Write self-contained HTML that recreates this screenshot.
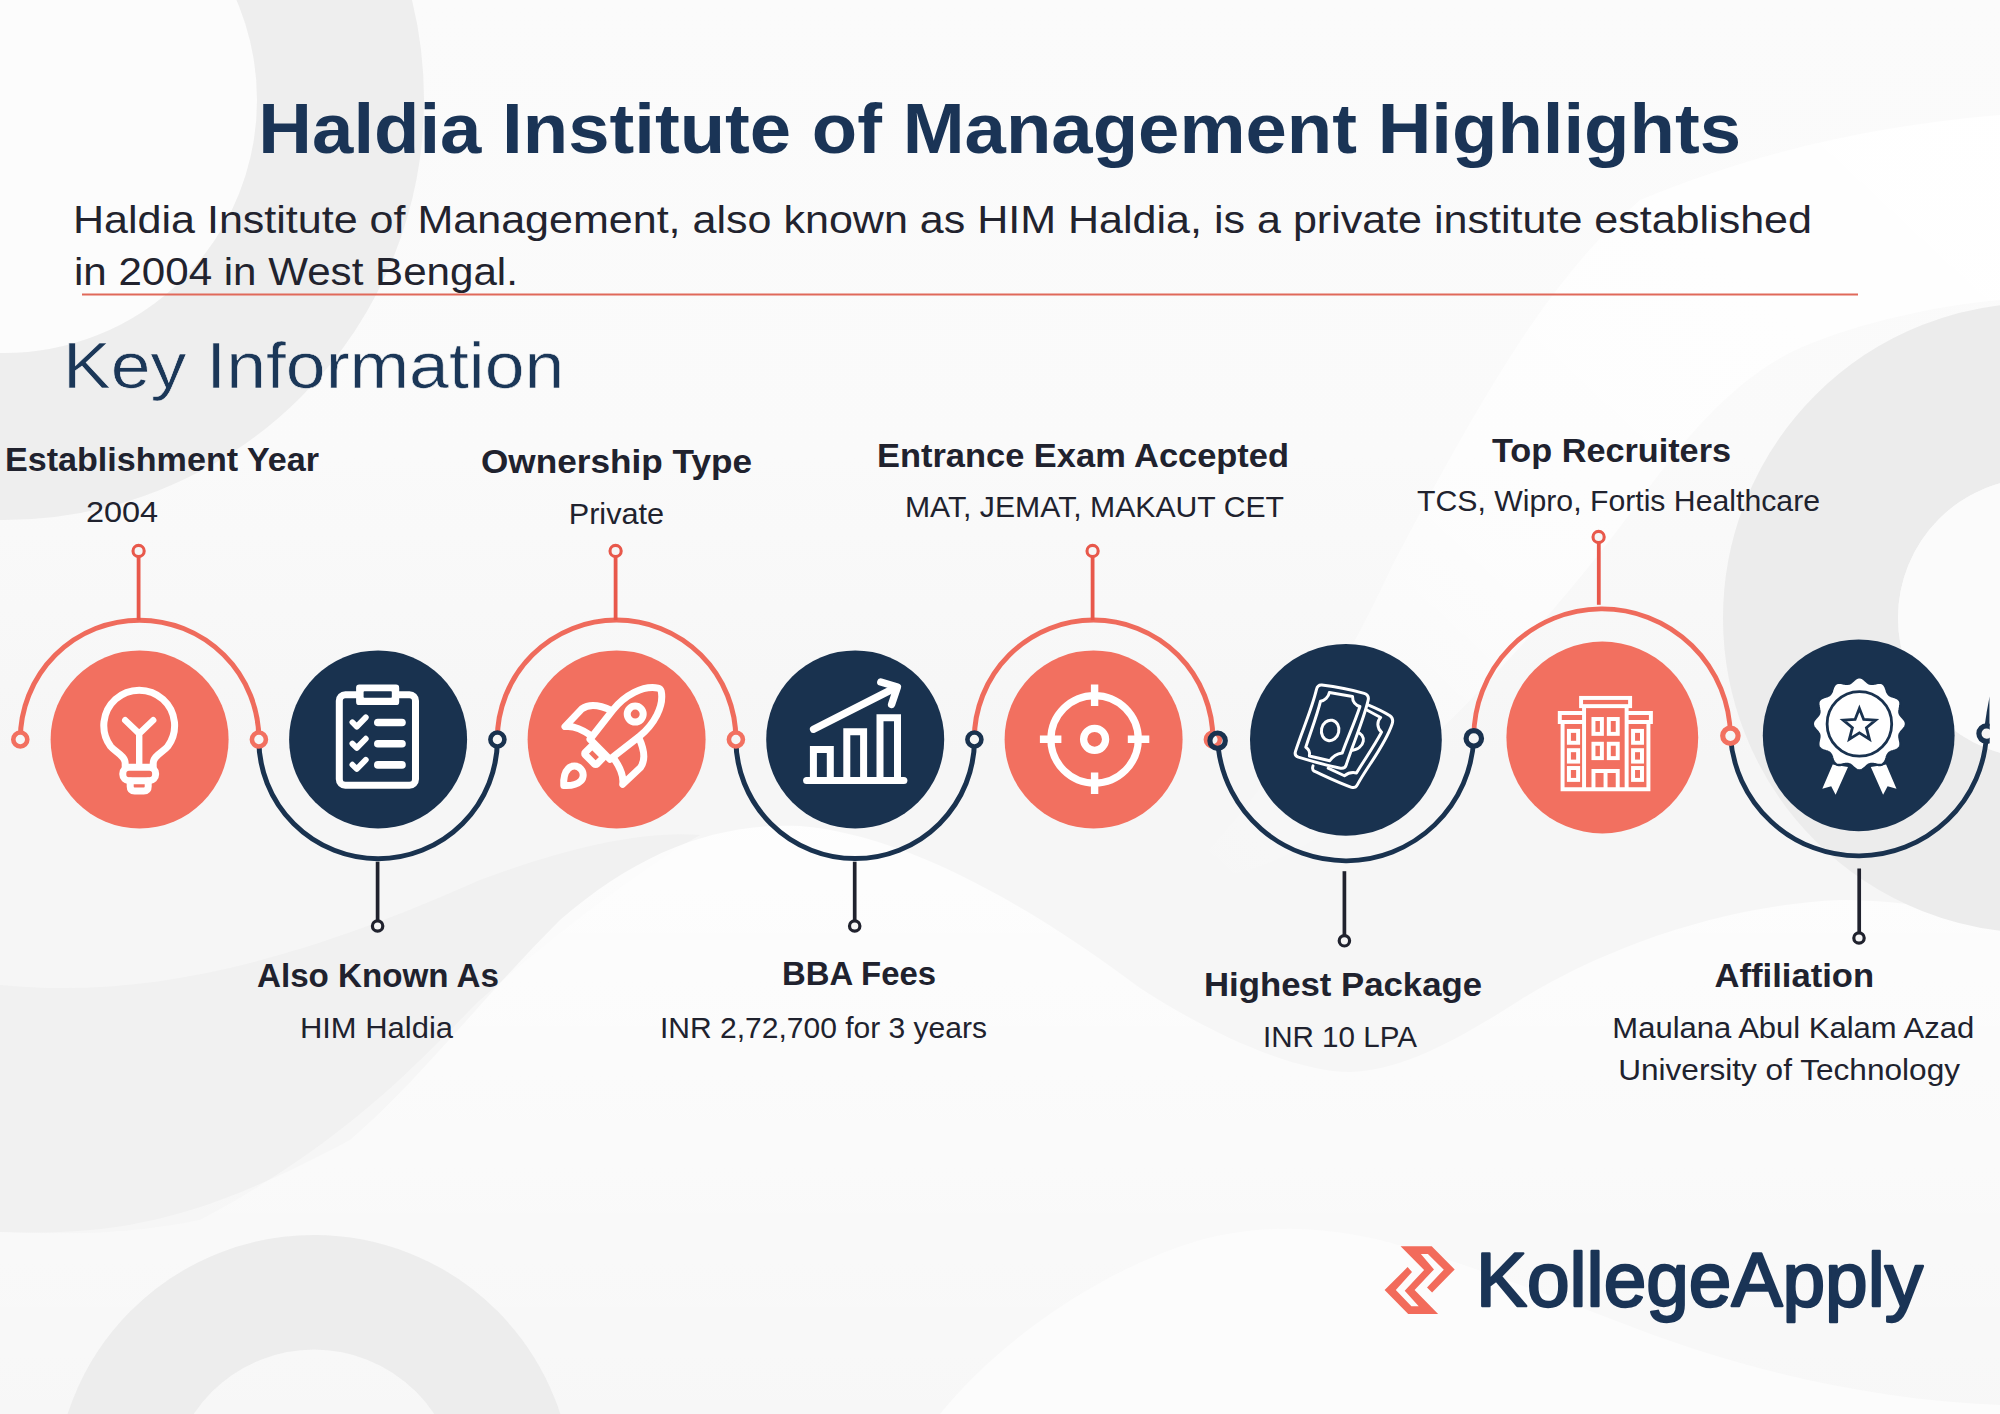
<!DOCTYPE html>
<html lang="en"><head><meta charset="utf-8">
<title>Haldia Institute of Management Highlights</title>
<style>
html,body{margin:0;padding:0;background:#f7f7f7;}
body{width:2000px;height:1414px;overflow:hidden;position:relative;font-family:"Liberation Sans",sans-serif;}
svg{position:absolute;left:0;top:0;display:block}
text{font-family:"Liberation Sans",sans-serif;}
.b{font-weight:bold}
</style></head><body>
<svg width="2000" height="1414" viewBox="0 0 2000 1414">
<defs>
<linearGradient id="wv" x1="0" y1="0" x2="0" y2="1"><stop offset="0" stop-color="#fff" stop-opacity="0.85"/><stop offset="1" stop-color="#fff" stop-opacity="0.15"/></linearGradient>
<linearGradient id="wv2" x1="1" y1="0" x2="0" y2="1"><stop offset="0" stop-color="#fff" stop-opacity="0.95"/><stop offset="0.6" stop-color="#fff" stop-opacity="0.6"/><stop offset="1" stop-color="#fff" stop-opacity="0"/></linearGradient>
<linearGradient id="gz" x1="0" y1="0" x2="1" y2="0"><stop offset="0" stop-color="#e9e9e9" stop-opacity="0.8"/><stop offset="1" stop-color="#efefef" stop-opacity="0"/></linearGradient>
<filter id="sf" x="-5%" y="-5%" width="110%" height="110%"><feGaussianBlur stdDeviation="1.2"/></filter>
<linearGradient id="tz" x1="0" y1="0" x2="0" y2="1"><stop offset="0" stop-color="#fbfbfb"/><stop offset="0.6" stop-color="#fafafa"/><stop offset="1" stop-color="#f6f6f6"/></linearGradient>
</defs>
<rect x="0" y="0" width="2000" height="1414" fill="#f6f6f6"/>
<rect x="0" y="0" width="2000" height="760" fill="url(#tz)"/>
<path d="M0,985 C150,1000 300,960 480,880 C560,850 640,830 700,835 C640,870 560,930 480,1000 C420,1060 350,1140 200,1220 C120,1236 60,1234 0,1232 Z" fill="#f1f1f1"/>
<path d="M2000,115 C1880,125 1760,150 1640,200 C1560,270 1500,360 1392,566 C1330,700 1260,800 1180,880 C1240,880 1290,860 1340,820 C1450,730 1560,610 1640,500 C1690,430 1740,375 1800,348 C1860,322 1940,305 2000,300 Z" fill="url(#wv2)"/>
<path d="M0,1232 C120,1236 200,1220 350,1140 C420,1080 480,1000 560,920 C640,850 720,822 800,826 C900,834 1020,898 1140,988 C1220,1040 1300,1072 1350,1072 C1400,1070 1450,1045 1520,1000 C1600,950 1720,905 1840,900 C1900,900 1960,910 2000,925 L2000,1414 L0,1414 Z" fill="url(#wv)"/>
<path d="M940,1414 C1000,1340 1100,1270 1200,1240 C1260,1224 1320,1226 1380,1240 C1460,1260 1560,1300 1640,1330 C1760,1375 1880,1400 2000,1405 L2000,1414 Z" fill="#fcfcfc"/>
<circle cx="4" cy="100" r="253" fill="#fcfcfc"/>
<circle cx="4" cy="100" r="336.5" fill="none" stroke="#eeeeee" stroke-width="167"/>
<circle cx="2038" cy="618" r="227.5" fill="none" stroke="#ececec" stroke-width="175"/>
<circle cx="2038" cy="618" r="140" fill="#fbfbfb"/>
<circle cx="314" cy="1494" r="201.75" fill="none" stroke="#ebebeb" stroke-opacity="0.9" stroke-width="114.5"/>
<text class="b" x="258.37" y="153.0" font-size="70" fill="#1a3456" textLength="1482.65" lengthAdjust="spacingAndGlyphs">Haldia Institute of Management Highlights</text>
<text x="72.98" y="233.0" font-size="38" fill="#22232e" textLength="1739.03" lengthAdjust="spacingAndGlyphs">Haldia Institute of Management, also known as HIM Haldia, is a private institute established</text>
<text x="73.95" y="285.0" font-size="38" fill="#22232e" textLength="443.91" lengthAdjust="spacingAndGlyphs">in 2004 in West Bengal.</text>
<rect x="82" y="293.5" width="1776" height="2" fill="#e0695a"/>
<text x="63.04" y="387.6" font-size="64" fill="#1b3758" textLength="501.28" lengthAdjust="spacingAndGlyphs" stroke="#f4f4f4" stroke-width="0.6">Key Information</text>
<text class="b" x="4.97" y="470.5" font-size="34" fill="#20222e" textLength="314.04" lengthAdjust="spacingAndGlyphs">Establishment Year</text>
<text x="85.90" y="522.0" font-size="30" fill="#20222e" textLength="72.16" lengthAdjust="spacingAndGlyphs">2004</text>
<text class="b" x="480.98" y="473.0" font-size="34" fill="#20222e" textLength="271.04" lengthAdjust="spacingAndGlyphs">Ownership Type</text>
<text x="568.69" y="523.8" font-size="30" fill="#20222e" textLength="95.41" lengthAdjust="spacingAndGlyphs">Private</text>
<text class="b" x="876.97" y="466.8" font-size="34" fill="#20222e" textLength="412.05" lengthAdjust="spacingAndGlyphs">Entrance Exam Accepted</text>
<text x="904.97" y="517.0" font-size="30" fill="#20222e" textLength="379.04" lengthAdjust="spacingAndGlyphs">MAT, JEMAT, MAKAUT CET</text>
<text class="b" x="1492.00" y="461.8" font-size="34" fill="#20222e" textLength="239.01" lengthAdjust="spacingAndGlyphs">Top Recruiters</text>
<text x="1417.00" y="510.8" font-size="30" fill="#20222e" textLength="403.01" lengthAdjust="spacingAndGlyphs">TCS, Wipro, Fortis Healthcare</text>
<text class="b" x="256.99" y="986.8" font-size="34" fill="#20222e" textLength="242.03" lengthAdjust="spacingAndGlyphs">Also Known As</text>
<text x="299.93" y="1037.5" font-size="30" fill="#20222e" textLength="153.06" lengthAdjust="spacingAndGlyphs">HIM Haldia</text>
<text class="b" x="781.93" y="985.0" font-size="34" fill="#20222e" textLength="154.12" lengthAdjust="spacingAndGlyphs">BBA Fees</text>
<text x="659.96" y="1037.5" font-size="30" fill="#20222e" textLength="327.05" lengthAdjust="spacingAndGlyphs">INR 2,72,700 for 3 years</text>
<text class="b" x="1203.96" y="996.2" font-size="34" fill="#20222e" textLength="278.06" lengthAdjust="spacingAndGlyphs">Highest Package</text>
<text x="1262.94" y="1047.0" font-size="30" fill="#20222e" textLength="154.06" lengthAdjust="spacingAndGlyphs">INR 10 LPA</text>
<text class="b" x="1714.56" y="987.2" font-size="34" fill="#20222e" textLength="159.49" lengthAdjust="spacingAndGlyphs">Affiliation</text>
<text x="1612.37" y="1038.0" font-size="30" fill="#20222e" textLength="361.86" lengthAdjust="spacingAndGlyphs">Maulana Abul Kalam Azad</text>
<text x="1618.18" y="1079.6" font-size="30" fill="#20222e" textLength="341.82" lengthAdjust="spacingAndGlyphs">University of Technology</text>
<path d="M20.3,739.4 A119.3,119.3 0 0 1 258.9,739.4" fill="none" stroke="#ef6b5c" stroke-width="5"/>
<path d="M258.8,739.4 A119.3,119.3 0 0 0 497.4,739.4" fill="none" stroke="#19324f" stroke-width="5"/>
<path d="M497.3,739.4 A119.3,119.3 0 0 1 735.9,739.4" fill="none" stroke="#ef6b5c" stroke-width="5"/>
<path d="M735.9,739.4 A119.3,119.3 0 0 0 974.5,739.4" fill="none" stroke="#19324f" stroke-width="5"/>
<path d="M974.3,739.4 A119.3,119.3 0 0 1 1212.9,739.4" fill="none" stroke="#ef6b5c" stroke-width="5"/>
<line x1="138.6" y1="556" x2="138.6" y2="620.1" stroke="#e8584b" stroke-width="3.8"/>
<circle cx="138.6" cy="551" r="5.6" fill="#f6f6f6" stroke="#e8584b" stroke-width="3.1"/>
<line x1="377.6" y1="861.7" x2="377.6" y2="921" stroke="#20222e" stroke-width="3.7"/>
<circle cx="377.6" cy="926" r="5.2" fill="#f6f6f6" stroke="#20222e" stroke-width="3.2"/>
<line x1="615.6" y1="556" x2="615.6" y2="620.1" stroke="#e8584b" stroke-width="3.8"/>
<circle cx="615.6" cy="551" r="5.6" fill="#f6f6f6" stroke="#e8584b" stroke-width="3.1"/>
<line x1="854.7" y1="861.7" x2="854.7" y2="921" stroke="#20222e" stroke-width="3.7"/>
<circle cx="854.7" cy="926" r="5.2" fill="#f6f6f6" stroke="#20222e" stroke-width="3.2"/>
<line x1="1092.6" y1="556" x2="1092.6" y2="620.1" stroke="#e8584b" stroke-width="3.8"/>
<circle cx="1092.6" cy="551" r="5.6" fill="#f6f6f6" stroke="#e8584b" stroke-width="3.1"/>
<circle cx="20.3" cy="739.5" r="7" fill="#f6f6f6" stroke="#f27060" stroke-width="4.6"/>
<circle cx="258.9" cy="739.5" r="7" fill="#f6f6f6" stroke="#f27060" stroke-width="4.6"/>
<circle cx="497.4" cy="739.5" r="7" fill="#f6f6f6" stroke="#19324f" stroke-width="4.6"/>
<circle cx="735.9" cy="739.5" r="7" fill="#f6f6f6" stroke="#f27060" stroke-width="4.6"/>
<circle cx="974.4" cy="739.5" r="7" fill="#f6f6f6" stroke="#19324f" stroke-width="4.6"/>
<circle cx="1212.9" cy="739.5" r="7" fill="#f6f6f6" stroke="#f27060" stroke-width="4.6"/>
<circle cx="139.6" cy="739.4" r="89" fill="#f27060"/>
<circle cx="378.1" cy="739.4" r="89" fill="#19324f"/>
<circle cx="616.6" cy="739.4" r="89" fill="#f27060"/>
<circle cx="855.2" cy="739.4" r="89" fill="#19324f"/>
<circle cx="1093.6" cy="739.4" r="89" fill="#f27060"/>
<clipPath id="g2c"><rect x="1150" y="500" width="839.7" height="500"/></clipPath>
<g clip-path="url(#g2c)">
<path d="M1217.6,740.7 A128.3,128.3 0 0 0 1473.8,738.4" fill="none" stroke="#19324f" stroke-width="4.8" stroke-dasharray="0 8 600"/>
<path d="M1473.8,738.4 A128.3,128.3 0 0 1 1730.4,735.8" fill="none" stroke="#ef6b5c" stroke-width="4.8"/>
<path d="M1730.4,735.8 A128.3,128.3 0 0 0 1986.6,733.6" fill="none" stroke="#19324f" stroke-width="4.8"/>
<line x1="1344.4" y1="871.2" x2="1344.4" y2="936" stroke="#20222e" stroke-width="3.7"/>
<circle cx="1344.4" cy="940.8" r="5.2" fill="#f6f6f6" stroke="#20222e" stroke-width="3.2"/>
<line x1="1598.8" y1="542" x2="1598.8" y2="604.8" stroke="#e8584b" stroke-width="3.8"/>
<circle cx="1598.6" cy="537" r="5.6" fill="#f6f6f6" stroke="#e8584b" stroke-width="3.1"/>
<line x1="1859.2" y1="868.5" x2="1859.2" y2="933" stroke="#20222e" stroke-width="3.7"/>
<circle cx="1859" cy="938" r="5.2" fill="#f6f6f6" stroke="#20222e" stroke-width="3.2"/>
<circle cx="1217.6" cy="740.7" r="7.7" fill="none" stroke="#19324f" stroke-width="5.2"/>
<circle cx="1473.8" cy="738.4" r="7.7" fill="#f6f6f6" stroke="#19324f" stroke-width="5.2"/>
<circle cx="1730.4" cy="735.8" r="7.7" fill="#f6f6f6" stroke="#f27060" stroke-width="5.2"/>
<circle cx="1986.6" cy="733.6" r="7.7" fill="#f6f6f6" stroke="#19324f" stroke-width="5.2"/>
<circle cx="1345.9" cy="739.8" r="95.9" fill="#19324f"/>
<circle cx="1602.3" cy="737.5" r="95.9" fill="#f27060"/>
<circle cx="1858.7" cy="735.3" r="95.9" fill="#19324f"/>
<path d="M1984.6,726 Q1986.5,712 1989.6,696.6 L1989.6,726 Z" fill="#19324f"/>
</g>
<g fill="none" stroke="#fff" stroke-width="7" stroke-linecap="round" stroke-linejoin="round">
<path d="M125.2,766.5 V763.5 C125.2,755.5 115.5,752.5 110.6,746.4 A35.4,35.4 0 1 1 167.8,746.4 C162.9,752.5 153.2,755.5 153.2,763.5 V766.5"/>
<path d="M139.2,766 V733.6 M125.2,720.2 L139.2,733.6 L153.2,720.2" stroke-width="6.4"/>
<rect x="122.8" y="767.3" width="32.8" height="13.4" rx="6.2"/>
<path d="M130.2,781 V786.6 Q130.2,791 134.6,791 H143.8 Q148.2,791 148.2,786.6 V781"/>
</g>
<g>
<rect x="339.3" y="694.8" width="76.2" height="90.5" rx="6" fill="none" stroke="#fff" stroke-width="7"/>
<rect x="356.1" y="684.6" width="43.1" height="20.5" rx="3.2" fill="#fff"/>
<rect x="363.6" y="691.3" width="28.2" height="6.4" rx="0.8" fill="#19324f"/>
<line x1="377.8" y1="722.5" x2="402" y2="722.5" stroke="#fff" stroke-width="7.6" stroke-linecap="round"/>
<path d="M352.4,722.3 L356.8,726.6 L365.8,717.4" fill="none" stroke="#fff" stroke-width="5.8" stroke-linecap="round" stroke-linejoin="round"/>
<line x1="377.8" y1="743.8" x2="402" y2="743.8" stroke="#fff" stroke-width="7.6" stroke-linecap="round"/>
<path d="M352.4,743.6 L356.8,747.9 L365.8,738.7" fill="none" stroke="#fff" stroke-width="5.8" stroke-linecap="round" stroke-linejoin="round"/>
<line x1="377.8" y1="764.9" x2="402" y2="764.9" stroke="#fff" stroke-width="7.6" stroke-linecap="round"/>
<path d="M352.4,764.7 L356.8,769.0 L365.8,759.8" fill="none" stroke="#fff" stroke-width="5.8" stroke-linecap="round" stroke-linejoin="round"/>
</g>
<g transform="translate(635.2,714.1) rotate(45)" fill="none" stroke="#fff" stroke-width="7" stroke-linecap="round" stroke-linejoin="round">
<path d="M-14.2,49.8 L-18.7,13 C-20.8,-6 -15,-26 -2.2,-34.6 Q0,-36 2.2,-34.6 C15,-26 20.8,-6 18.7,13 L14.2,49.8 Z"/>
<circle cx="0" cy="0" r="8" stroke-width="7"/>
<path d="M-19,14 C-30,18 -40,25 -41.5,34 L-40.8,58.5 C-36,52 -28,48.5 -16.5,46.5"/>
<path d="M19,14 C30,18 40,25 41.5,34 L40.8,58.5 C36,52 28,48.5 16.5,46.5"/>
<rect x="-8.2" y="52.5" width="16.4" height="11.6" rx="1.5"/>
<path d="M0,101 C-4.5,97 -8.8,92 -8.8,86 A8.8,8.8 0 0 1 8.8,86 C8.8,92 4.5,97 0,101 Z"/>
</g>
<g fill="none" stroke="#fff" stroke-width="7" stroke-linecap="round" stroke-linejoin="round">
<line x1="806.6" y1="780.5" x2="903.9" y2="780.5"/>
<path d="M813.4,780 V749.4 H830.3 V780" stroke-linejoin="miter"/>
<path d="M846.8,780 V731.8 H863.6 V780" stroke-linejoin="miter"/>
<path d="M880,780 V717.7 H897.5 V780" stroke-linejoin="miter"/>
<path d="M813.6,729.2 L895.5,687.6" stroke-width="7.4"/>
<path d="M880.8,682 L897.4,687 L891.6,704.4" stroke-width="7.4"/>
</g>
<g fill="none" stroke="#fff" stroke-width="7.2">
<circle cx="1094.6" cy="739.3" r="43.7"/>
<circle cx="1094.6" cy="739.3" r="11" stroke-width="7.3"/>
<path d="M1094.6,684.6 V706 M1094.6,772.6 V794 M1039.9,739.3 H1061.4 M1127.8,739.3 H1149.3" stroke-width="7.4"/>
</g>
<g transform="translate(1285,670) scale(0.09901)" fill="none" stroke="#fff" stroke-width="30" stroke-linecap="round" stroke-linejoin="round">
<path d="M838,352 C930,390 1010,430 1060,462 Q1100,490 1082,545 C1010,760 840,960 730,1160 Q712,1195 672,1185 C540,1140 400,1070 295,1022 Q270,1008 283,968"/>
<path d="M822,402 L966,480 C925,520 930,590 975,628 C900,770 800,910 722,1040 C680,1030 630,1045 600,1068 L436,992"/>
<path d="M722,628 C820,640 830,800 652,815"/>
<path d="M372,152 C520,170 690,205 800,236 Q852,252 840,305 C790,520 680,760 618,960 Q605,1000 560,992 C420,965 250,915 135,880 Q92,865 106,822 C170,620 270,400 318,196 Q330,148 372,152 Z" fill="#19324f"/>
<path d="M448,228 L682,268 C680,320 715,360 757,368 C700,540 630,690 578,838 C530,845 480,875 452,917 L246,868 C255,830 240,800 210,780 C260,620 320,470 358,316 C400,310 440,275 448,228 Z"/>
<ellipse cx="456" cy="610" rx="88" ry="104" transform="rotate(12 456 610)"/>
</g>
<g transform="translate(1540,670) scale(0.09901)" fill="none" stroke="#fff" stroke-width="40" stroke-linejoin="miter">
<rect x="415" y="282" width="495" height="83"/>
<path d="M445,365 V1205 M875,365 V1205"/>
<path d="M445,435 H200 V525 H445 M875,435 H1120 V525 H875"/>
<path d="M228,525 V1205 M1095,525 V1205 M208,1205 H1115"/>
<rect x="540" y="495" width="85" height="150"/>
<rect x="540" y="745" width="85" height="145"/>
<rect x="695" y="495" width="90" height="150"/>
<rect x="695" y="745" width="90" height="145"/>
<path d="M540,1205 V1020 H785 V1205 M662,1020 V1205"/>
<rect x="292" y="615" width="93" height="120"/>
<rect x="292" y="810" width="93" height="115"/>
<rect x="292" y="990" width="93" height="120"/>
<rect x="940" y="615" width="90" height="120"/>
<rect x="940" y="810" width="90" height="115"/>
<rect x="940" y="990" width="90" height="120"/>
</g>
<g>
<polygon points="1832.7,764.5 1848,767 1835.6,794.7 1831.2,786.3 1822.3,788.8" fill="#fff"/>
<polygon points="1870.8,767 1886.1,764.5 1896.5,788.8 1887.6,786.3 1883.1,794.7" fill="#fff"/>
<path d="M1859.4,677.3 L1860.2,677.4 L1861.0,677.5 L1861.8,677.8 L1862.6,678.2 L1863.4,678.7 L1864.1,679.3 L1864.8,679.9 L1865.5,680.5 L1866.2,681.1 L1866.8,681.7 L1867.5,682.3 L1868.1,682.7 L1868.8,683.2 L1869.5,683.5 L1870.2,683.7 L1870.9,683.9 L1871.6,683.9 L1872.4,683.9 L1873.2,683.8 L1874.1,683.6 L1874.9,683.5 L1875.8,683.3 L1876.7,683.1 L1877.7,682.9 L1878.6,682.8 L1879.5,682.8 L1880.3,682.8 L1881.2,682.9 L1882.0,683.2 L1882.7,683.5 L1883.4,684.0 L1884.0,684.6 L1884.5,685.2 L1885.0,686.0 L1885.4,686.8 L1885.8,687.6 L1886.1,688.5 L1886.4,689.4 L1886.7,690.2 L1886.9,691.1 L1887.2,691.9 L1887.6,692.6 L1887.9,693.3 L1888.3,693.9 L1888.8,694.5 L1889.4,695.0 L1890.0,695.4 L1890.7,695.7 L1891.4,696.1 L1892.2,696.4 L1893.1,696.6 L1893.9,696.9 L1894.8,697.2 L1895.7,697.5 L1896.5,697.9 L1897.3,698.3 L1898.1,698.8 L1898.7,699.3 L1899.3,699.9 L1899.8,700.6 L1900.1,701.3 L1900.4,702.1 L1900.5,703.0 L1900.5,703.8 L1900.5,704.7 L1900.4,705.6 L1900.2,706.6 L1900.0,707.5 L1899.8,708.4 L1899.7,709.2 L1899.5,710.1 L1899.4,710.9 L1899.4,711.7 L1899.4,712.4 L1899.6,713.1 L1899.8,713.8 L1900.1,714.5 L1900.6,715.2 L1901.0,715.8 L1901.6,716.5 L1902.2,717.1 L1902.8,717.8 L1903.4,718.5 L1904.0,719.2 L1904.6,719.9 L1905.1,720.7 L1905.5,721.5 L1905.8,722.3 L1905.9,723.1 L1906.0,723.9 L1905.9,724.7 L1905.8,725.5 L1905.5,726.3 L1905.1,727.1 L1904.6,727.9 L1904.0,728.6 L1903.4,729.3 L1902.8,730.0 L1902.2,730.7 L1901.6,731.3 L1901.0,732.0 L1900.6,732.6 L1900.1,733.3 L1899.8,734.0 L1899.6,734.7 L1899.4,735.4 L1899.4,736.1 L1899.4,736.9 L1899.5,737.7 L1899.7,738.6 L1899.8,739.4 L1900.0,740.3 L1900.2,741.2 L1900.4,742.2 L1900.5,743.1 L1900.5,744.0 L1900.5,744.8 L1900.4,745.7 L1900.1,746.5 L1899.8,747.2 L1899.3,747.9 L1898.7,748.5 L1898.1,749.0 L1897.3,749.5 L1896.5,749.9 L1895.7,750.3 L1894.8,750.6 L1893.9,750.9 L1893.1,751.2 L1892.2,751.4 L1891.4,751.7 L1890.7,752.1 L1890.0,752.4 L1889.4,752.8 L1888.8,753.3 L1888.3,753.9 L1887.9,754.5 L1887.6,755.2 L1887.2,755.9 L1886.9,756.7 L1886.7,757.6 L1886.4,758.4 L1886.1,759.3 L1885.8,760.2 L1885.4,761.0 L1885.0,761.8 L1884.5,762.6 L1884.0,763.2 L1883.4,763.8 L1882.7,764.3 L1882.0,764.6 L1881.2,764.9 L1880.3,765.0 L1879.5,765.0 L1878.6,765.0 L1877.7,764.9 L1876.7,764.7 L1875.8,764.5 L1874.9,764.3 L1874.1,764.2 L1873.2,764.0 L1872.4,763.9 L1871.6,763.9 L1870.9,763.9 L1870.2,764.1 L1869.5,764.3 L1868.8,764.6 L1868.1,765.1 L1867.5,765.5 L1866.8,766.1 L1866.2,766.7 L1865.5,767.3 L1864.8,767.9 L1864.1,768.5 L1863.4,769.1 L1862.6,769.6 L1861.8,770.0 L1861.0,770.3 L1860.2,770.4 L1859.4,770.5 L1858.6,770.4 L1857.8,770.3 L1857.0,770.0 L1856.2,769.6 L1855.4,769.1 L1854.7,768.5 L1854.0,767.9 L1853.3,767.3 L1852.6,766.7 L1852.0,766.1 L1851.3,765.5 L1850.7,765.1 L1850.0,764.6 L1849.3,764.3 L1848.6,764.1 L1847.9,763.9 L1847.2,763.9 L1846.4,763.9 L1845.6,764.0 L1844.7,764.2 L1843.9,764.3 L1843.0,764.5 L1842.1,764.7 L1841.1,764.9 L1840.2,765.0 L1839.3,765.0 L1838.5,765.0 L1837.6,764.9 L1836.8,764.6 L1836.1,764.3 L1835.4,763.8 L1834.8,763.2 L1834.3,762.6 L1833.8,761.8 L1833.4,761.0 L1833.0,760.2 L1832.7,759.3 L1832.4,758.4 L1832.1,757.6 L1831.9,756.7 L1831.6,755.9 L1831.2,755.2 L1830.9,754.5 L1830.5,753.9 L1830.0,753.3 L1829.4,752.8 L1828.8,752.4 L1828.1,752.1 L1827.4,751.7 L1826.6,751.4 L1825.7,751.2 L1824.9,750.9 L1824.0,750.6 L1823.1,750.3 L1822.3,749.9 L1821.5,749.5 L1820.7,749.0 L1820.1,748.5 L1819.5,747.9 L1819.0,747.2 L1818.7,746.5 L1818.4,745.7 L1818.3,744.8 L1818.3,744.0 L1818.3,743.1 L1818.4,742.2 L1818.6,741.2 L1818.8,740.3 L1819.0,739.4 L1819.1,738.6 L1819.3,737.7 L1819.4,736.9 L1819.4,736.1 L1819.4,735.4 L1819.2,734.7 L1819.0,734.0 L1818.7,733.3 L1818.2,732.6 L1817.8,732.0 L1817.2,731.3 L1816.6,730.7 L1816.0,730.0 L1815.4,729.3 L1814.8,728.6 L1814.2,727.9 L1813.7,727.1 L1813.3,726.3 L1813.0,725.5 L1812.9,724.7 L1812.8,723.9 L1812.9,723.1 L1813.0,722.3 L1813.3,721.5 L1813.7,720.7 L1814.2,719.9 L1814.8,719.2 L1815.4,718.5 L1816.0,717.8 L1816.6,717.1 L1817.2,716.5 L1817.8,715.8 L1818.2,715.2 L1818.7,714.5 L1819.0,713.8 L1819.2,713.1 L1819.4,712.4 L1819.4,711.7 L1819.4,710.9 L1819.3,710.1 L1819.1,709.2 L1819.0,708.4 L1818.8,707.5 L1818.6,706.6 L1818.4,705.6 L1818.3,704.7 L1818.3,703.8 L1818.3,703.0 L1818.4,702.1 L1818.7,701.3 L1819.0,700.6 L1819.5,699.9 L1820.1,699.3 L1820.7,698.8 L1821.5,698.3 L1822.3,697.9 L1823.1,697.5 L1824.0,697.2 L1824.9,696.9 L1825.7,696.6 L1826.6,696.4 L1827.4,696.1 L1828.1,695.7 L1828.8,695.4 L1829.4,695.0 L1830.0,694.5 L1830.5,693.9 L1830.9,693.3 L1831.2,692.6 L1831.6,691.9 L1831.9,691.1 L1832.1,690.2 L1832.4,689.4 L1832.7,688.5 L1833.0,687.6 L1833.4,686.8 L1833.8,686.0 L1834.3,685.2 L1834.8,684.6 L1835.4,684.0 L1836.1,683.5 L1836.8,683.2 L1837.6,682.9 L1838.5,682.8 L1839.3,682.8 L1840.2,682.8 L1841.1,682.9 L1842.1,683.1 L1843.0,683.3 L1843.9,683.5 L1844.7,683.6 L1845.6,683.8 L1846.4,683.9 L1847.2,683.9 L1847.9,683.9 L1848.6,683.7 L1849.3,683.5 L1850.0,683.2 L1850.7,682.7 L1851.3,682.3 L1852.0,681.7 L1852.6,681.1 L1853.3,680.5 L1854.0,679.9 L1854.7,679.3 L1855.4,678.7 L1856.2,678.2 L1857.0,677.8 L1857.8,677.5 L1858.6,677.4 L1859.4,677.3 Z" fill="#fff" stroke="#19324f" stroke-width="2.4"/>
<circle cx="1859.4" cy="723.9" r="32.3" fill="none" stroke="#19324f" stroke-width="2.8"/>
<polygon points="1859.4,708.4 1863.7,719.4 1875.6,720.1 1866.4,727.7 1869.4,739.2 1859.4,732.8 1849.4,739.2 1852.4,727.7 1843.2,720.1 1855.1,719.4" fill="none" stroke="#19324f" stroke-width="2.8" stroke-linejoin="miter"/>
</g>
<polygon fill="#f26b5b" points="1400.6,1246.3 1431.7,1246.3 1454.7,1269.4 1432.1,1292.6 1427.0,1287.5 1443.8,1269.7 1427.9,1254.1 1420.9,1254.1 1434.0,1269.4 1414.6,1290.1 1438.1,1313.9 1408.2,1313.9 1384.6,1290.1 1407.6,1267.1 1412.0,1271.9 1395.8,1290.1 1411.4,1306.3 1418.7,1306.3 1404.7,1290.7 1424.1,1270.0"/>
<text x="1475.94" y="1305.8" font-size="76" fill="#1a3456" textLength="447.05" lengthAdjust="spacingAndGlyphs" stroke="#1a3456" stroke-width="2.4" stroke-linejoin="round">KollegeApply</text>
</svg></body></html>
